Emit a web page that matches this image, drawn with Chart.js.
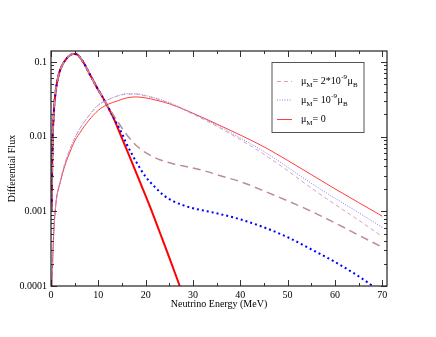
<!DOCTYPE html>
<html>
<head>
<meta charset="utf-8">
<script src="https://cdn.jsdelivr.net/npm/chart.js@4/dist/chart.umd.min.js"></script>
<style>
  body { margin: 0; background: #fff; }
</style>
</head>
<body>
<canvas id="fluxChart" width="436" height="337"></canvas>
<script>
// energies (MeV) and differential flux

// low-energy peaked component, mu_M = 0 (thick red)
const peakE = [0.15, 0.25, 0.35, 0.5, 0.7, 0.9, 1.2, 1.6, 2, 2.5, 3, 3.5, 4, 4.5, 5, 5.5, 6, 7, 8, 9, 10, 11, 12, 13, 14, 15, 17, 19, 21, 23, 25, 27.2];
const peakF = [0.001, 0.004, 0.01, 0.016, 0.027, 0.036, 0.05, 0.066, 0.08, 0.094, 0.105, 0.115, 0.122, 0.127, 0.128, 0.126, 0.118, 0.095, 0.072, 0.055, 0.042, 0.033, 0.025, 0.019, 0.0135, 0.0095, 0.0047, 0.0023, 0.00112, 0.00052, 0.00024, 0.0001];

// peaked component with mu_M = 1e-9 (blue dotted)
const peak1E = [0.15, 0.25, 0.35, 0.5, 0.7, 0.9, 1.2, 1.6, 2, 2.5, 3, 3.5, 4, 4.5, 5, 5.5, 6, 7, 8, 9, 10, 11, 12, 13, 14, 15, 16, 17, 18, 19, 20, 22, 24, 26, 28, 30, 32, 35, 40, 45, 50, 55, 60, 65, 68];
const peak1F = [0.001, 0.004, 0.01, 0.016, 0.027, 0.036, 0.05, 0.066, 0.08, 0.094, 0.105, 0.115, 0.122, 0.127, 0.128, 0.126, 0.118, 0.095, 0.072, 0.055, 0.042, 0.033, 0.0253, 0.0193, 0.0145, 0.011, 0.0079, 0.006, 0.0046, 0.0036, 0.0029, 0.0021, 0.0016, 0.00135, 0.0012, 0.0011, 0.00103, 0.00094, 0.00078, 0.00061, 0.00045, 0.00031, 0.00021, 0.000135, 0.0001];

// peaked component with mu_M = 2e-9 (brown dashed)
const peak2E = [0.15, 0.25, 0.35, 0.5, 0.7, 0.9, 1.2, 1.6, 2, 2.5, 3, 3.5, 4, 4.5, 5, 5.5, 6, 7, 8, 9, 10, 11, 12, 13, 14, 15, 16, 17, 18, 20, 23, 26, 30, 33, 36.5, 40, 43.9, 50, 55, 60, 65, 70];
const peak2F = [0.001, 0.004, 0.01, 0.016, 0.027, 0.036, 0.05, 0.066, 0.08, 0.094, 0.105, 0.115, 0.122, 0.127, 0.128, 0.126, 0.118, 0.095, 0.072, 0.055, 0.042, 0.033, 0.0255, 0.0203, 0.0162, 0.013, 0.0106, 0.0089, 0.0076, 0.0061, 0.0049, 0.0043, 0.0038, 0.0034, 0.0029, 0.0025, 0.002, 0.00138, 0.001, 0.0007, 0.00048, 0.00033];

// broad high-energy component
const broadE = [0.2, 0.5, 1, 2, 3, 4, 5, 6, 8, 10, 12, 14, 16, 18, 20, 22, 25, 30, 35, 40, 45, 50, 55, 60, 65, 70];
const broad0F = [0.0001, 0.0004, 0.0012, 0.0025, 0.0042, 0.0062, 0.0087, 0.011, 0.0165, 0.0225, 0.027, 0.030, 0.033, 0.034, 0.033, 0.031, 0.0275, 0.0205, 0.0148, 0.0105, 0.0073, 0.0048, 0.0031, 0.002, 0.00131, 0.00086];
const broad1F = [0.0001, 0.0004, 0.0012, 0.0026, 0.0045, 0.0068, 0.0095, 0.0125, 0.019, 0.0265, 0.031, 0.035, 0.0375, 0.0375, 0.0355, 0.033, 0.0285, 0.0205, 0.0143, 0.0096, 0.0063, 0.0039, 0.00237, 0.0015, 0.00096, 0.00061];
const broad2F = [0.0001, 0.0004, 0.0012, 0.0026, 0.0045, 0.0068, 0.0095, 0.0125, 0.019, 0.0265, 0.031, 0.035, 0.037, 0.037, 0.035, 0.0325, 0.028, 0.02, 0.0138, 0.0091, 0.0058, 0.0035, 0.00205, 0.00124, 0.00076, 0.00046];

const xTicks = [0, 10, 20, 30, 40, 50, 60, 70];
const yTicks = [0.0001, 0.001, 0.01, 0.1];
const legendLabels = [
  { sup: '-9', pre: '2*10' },
  { sup: '-9', pre: '10' },
  { sup: null, pre: '0' },
];

const pts = (xs, ys) => xs.map((x, i) => ({ x: x, y: ys[i] }));

const serif = "'Liberation Serif', 'DejaVu Serif', serif";
const dashedCol = 'rgb(190,140,150)';

const datasets = [
  { data: pts(broadE, broad2F), borderColor: 'rgba(215,150,165,0.9)', borderWidth: 1, borderDash: [4, 3] },
  { data: pts(broadE, broad1F), borderColor: 'rgba(90,90,255,0.8)', borderWidth: 1, borderDash: [1, 1.5] },
  { data: pts(broadE, broad0F), borderColor: 'rgba(255,40,40,0.9)', borderWidth: 1 },
  { data: pts(peak2E, peak2F), borderColor: dashedCol, borderWidth: 1.5, borderDash: [8, 5] },
  { data: pts(peak1E, peak1F), borderColor: '#0000ff', borderWidth: 2, borderDash: [2, 3] },
  { data: pts(peakE, peakF), borderColor: '#ff0000', borderWidth: 2 },
];
datasets.forEach(d => { d.pointRadius = 0; d.fill = false; d.cubicInterpolationMode = 'monotone'; });

// frame, inward ticks on all four sides, and legend box
const framePlugin = {
  id: 'frame',
  afterDraw(chart) {
    const ctx = chart.ctx;
    const a = chart.chartArea;
    const xs = chart.scales.x, ys = chart.scales.y;
    ctx.save();
    ctx.strokeStyle = '#333';
    ctx.lineWidth = 1;
    ctx.beginPath();
    for (let v = 0; v <= 70; v += 5) {
      const px = Math.round(xs.getPixelForValue(v)) + 0.5;
      const len = v % 10 === 0 ? 6 : 3;
      ctx.moveTo(px, a.bottom); ctx.lineTo(px, a.bottom - len);
      ctx.moveTo(px, a.top); ctx.lineTo(px, a.top + len);
    }
    for (let e = -4; e <= -1; e++) {
      for (let m = 1; m <= 9; m++) {
        const v = m * Math.pow(10, e);
        if (v > ys.max) continue;
        const py = Math.round(ys.getPixelForValue(v)) + 0.5;
        const len = m === 1 ? 6 : 3;
        ctx.moveTo(a.left, py); ctx.lineTo(a.left + len, py);
        ctx.moveTo(a.right, py); ctx.lineTo(a.right - len, py);
      }
    }
    ctx.stroke();
    ctx.lineWidth = 1.2;
    ctx.strokeStyle = '#222';
    ctx.strokeRect(a.left, a.top, a.right - a.left, a.bottom - a.top);

    // legend
    const lx = 272, ly = 62.5, lw = 92, lh = 70;
    ctx.fillStyle = '#fff';
    ctx.fillRect(lx, ly, lw, lh);
    ctx.lineWidth = 1;
    ctx.strokeStyle = '#555';
    ctx.strokeRect(lx, ly, lw, lh);
    const rows = [81, 99.5, 119];
    const samples = [datasets[0], datasets[1], datasets[2]];
    rows.forEach((ry, i) => {
      const s = samples[i];
      ctx.strokeStyle = s.borderColor;
      ctx.lineWidth = 1;
      ctx.setLineDash(s.borderDash || []);
      ctx.beginPath();
      ctx.moveTo(277, ry + 0.5); ctx.lineTo(292, ry + 0.5);
      ctx.stroke();
      ctx.setLineDash([]);
      ctx.fillStyle = '#000';
      ctx.textBaseline = 'alphabetic';
      let x = 301;
      const base = ry + 3;
      ctx.font = '10px ' + serif;
      ctx.fillText('\u03bc', x, base); x += ctx.measureText('\u03bc').width;
      ctx.font = '7px ' + serif;
      ctx.fillText('M', x, base + 3); x += ctx.measureText('M').width;
      ctx.font = '10px ' + serif;
      const lab = legendLabels[i];
      const t = '= ' + lab.pre;
      ctx.fillText(t, x, base); x += ctx.measureText(t).width;
      if (lab.sup) {
        ctx.font = '7px ' + serif;
        ctx.fillText(lab.sup, x + 0.5, base - 5); x += ctx.measureText(lab.sup).width + 1;
        ctx.font = '10px ' + serif;
        ctx.fillText('\u03bc', x, base); x += ctx.measureText('\u03bc').width;
        ctx.font = '7px ' + serif;
        ctx.fillText('B', x, base + 3);
      }
    });
    ctx.restore();
  }
};

new Chart(document.getElementById('fluxChart'), {
  type: 'line',
  data: { datasets: datasets },
  options: {
    responsive: false,
    animation: false,
    layout: { padding: { top: 51, right: 49, left: 0, bottom: 27 } },
    plugins: { legend: { display: false }, tooltip: { enabled: false } },
    scales: {
      x: {
        type: 'linear',
        min: 0,
        max: 71,
        afterBuildTicks: s => { s.ticks = xTicks.map(v => ({ value: v })); },
        afterFit: s => { s.height = 24; },
        grid: { display: false, drawTicks: false },
        border: { display: false },
        ticks: { color: '#000', font: { family: serif, size: 10 }, padding: 3, maxRotation: 0 },
        title: { display: true, text: 'Neutrino Energy (MeV)', color: '#000', font: { family: serif, size: 10 }, padding: { top: 2, bottom: 0 } }
      },
      y: {
        type: 'logarithmic',
        min: 0.0001,
        max: 0.14,
        afterBuildTicks: s => { s.ticks = yTicks.map(v => ({ value: v })); },
        afterFit: s => { s.width = 51; },
        grid: { display: false, drawTicks: false },
        border: { display: false },
        ticks: { color: '#000', font: { family: serif, size: 10 }, padding: 4, callback: v => String(v) },
        title: { display: true, text: 'Differential Flux', color: '#000', font: { family: serif, size: 10 }, padding: { top: 6, bottom: 0 } }
      }
    }
  },
  plugins: [framePlugin]
});
</script>
</body>
</html>
